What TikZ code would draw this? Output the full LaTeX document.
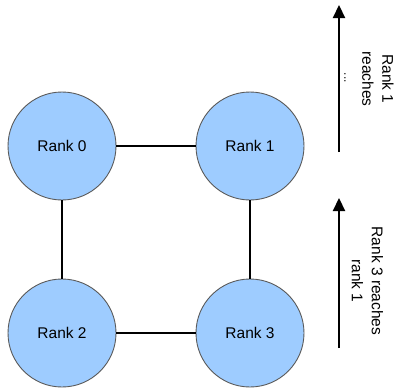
\documentclass[tikz,border=0pt]{standalone}
\usepackage{fontspec}
\setmainfont{Liberation Sans}
\usetikzlibrary{arrows.meta}
\definecolor{rankfill}{RGB}{158,204,255}
\definecolor{rankedge}{RGB}{90,90,90}
\begin{document}
\begin{tikzpicture}[x=1pt,y=-1pt,
  rank/.style={circle, draw=rankedge, line width=0.9pt, fill=rankfill, minimum size=108pt, inner sep=0pt, font=\fontsize{15.5}{18}\selectfont},
  link/.style={line width=2.2pt, black},
  upar/.style={line width=2.2pt, -{Triangle[length=13pt,width=12pt]}},
  note/.style={rotate=-90, align=center, font=\fontsize{15.5}{20}\selectfont, inner sep=0pt}]
\useasboundingbox (0,0) rectangle (396,388);
\node[rank] (r0) at (62,146) {Rank 0};
\node[rank] (r1) at (250,146) {Rank 1};
\node[rank] (r2) at (62,333) {Rank 2};
\node[rank] (r3) at (250,333) {Rank 3};
\draw[link] (r0) -- (r1);
\draw[link] (r2) -- (r3);
\draw[link] (r0) -- (r2);
\draw[link] (r1) -- (r3);
\coordinate (a1s) at (339,152);
\coordinate (a1e) at (339,5);
\coordinate (a2s) at (339,348);
\coordinate (a2e) at (339,198);
\draw[upar] (a1s) -- (a1e);
\draw[upar] (a2s) -- (a2e);
\node[note] (t1) at (378,79) {Rank 1\\reaches};
\node[rotate=-90, inner sep=0pt, font=\fontsize{12}{14}\selectfont] (dots) at (345,78) {...};
\node[note] (t2) at (367.5,281) {Rank 3 reaches\\rank 1};
\end{tikzpicture}
\end{document}
